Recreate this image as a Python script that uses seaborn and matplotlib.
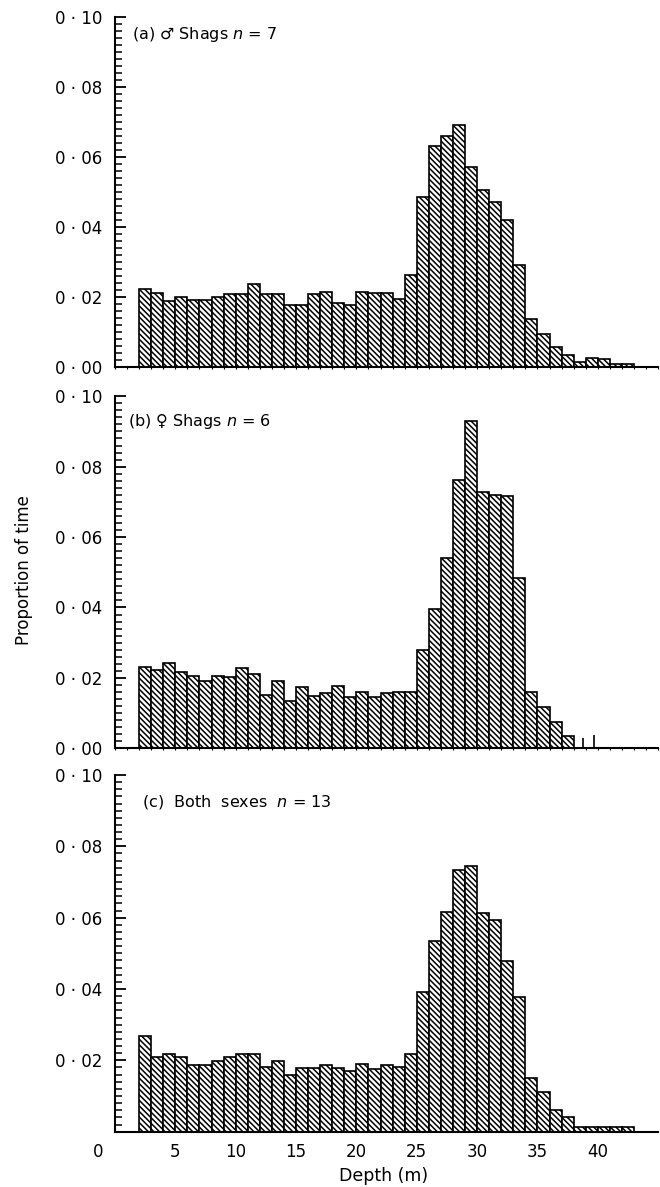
import matplotlib
matplotlib.use("Agg")
import matplotlib.pyplot as plt
import matplotlib.transforms as mtransforms
from matplotlib.ticker import FuncFormatter, MultipleLocator
import pandas as pd
import seaborn as sns

# depth bins, 1 m wide, from 2 m to 43 m
bin_edges = list(range(2, 44))
bin_centers = [b + 0.5 for b in bin_edges[:-1]]

male_prop = [0.0223, 0.0211, 0.0189, 0.0200, 0.0191, 0.0191, 0.0200, 0.0207, 0.0207, 0.0237,
             0.0207, 0.0207, 0.0177, 0.0177, 0.0209, 0.0214, 0.0183, 0.0175, 0.0214, 0.0211,
             0.0211, 0.0193, 0.0263, 0.0484, 0.0630, 0.0660, 0.0691, 0.0572, 0.0505, 0.0470,
             0.0419, 0.0291, 0.0137, 0.0093, 0.0056, 0.0033, 0.0014, 0.0025, 0.0023, 0.0007,
             0.0007]
female_prop = [0.0232, 0.0223, 0.0242, 0.0218, 0.0204, 0.0190, 0.0204, 0.0202, 0.0227, 0.0210,
               0.0152, 0.0190, 0.0135, 0.0173, 0.0149, 0.0156, 0.0178, 0.0147, 0.0159, 0.0145,
               0.0156, 0.0159, 0.0161, 0.0280, 0.0395, 0.0540, 0.0763, 0.0929, 0.0728, 0.0720,
               0.0718, 0.0485, 0.0161, 0.0118, 0.0074, 0.0036, 0.0, 0.0, 0.0, 0.0,
               0.0]
both_prop = [0.0267, 0.0208, 0.0219, 0.0208, 0.0187, 0.0187, 0.0197, 0.0208, 0.0219, 0.0219,
             0.0181, 0.0198, 0.0159, 0.0178, 0.0178, 0.0187, 0.0178, 0.0170, 0.0189, 0.0175,
             0.0186, 0.0181, 0.0217, 0.0392, 0.0534, 0.0617, 0.0734, 0.0744, 0.0612, 0.0593,
             0.0479, 0.0378, 0.0151, 0.0111, 0.0061, 0.0041, 0.0014, 0.0013, 0.0013, 0.0012,
             0.0013]

# two thin spikes beyond the last female bar
female_spike_depth = [38.8, 39.7]
female_spike_prop = [0.0028, 0.0038]

panel_labels = ["(a) \u2642 Shags $n$ = 7", "(b) \u2640 Shags $n$ = 6", "(c)  Both  sexes  $n$ = 13"]
x_ticks = [0, 5, 10, 15, 20, 25, 30, 35, 40]

sns.set_theme(style="ticks")
plt.rcParams["font.family"] = ["DejaVu Sans"]
plt.rcParams["mathtext.fontset"] = "dejavusans"
plt.rcParams["hatch.linewidth"] = 1.1
plt.rcParams["hatch.color"] = "black"

fig = plt.figure(figsize=(6.6, 11.87), dpi=100)
rects = [
    [0.1742, 0.6911, 0.823, 0.2946],
    [0.1742, 0.3696, 0.823, 0.2966],
    [0.1742, 0.0466, 0.823, 0.3005],
]
text_pos = [(0.031, 0.949), (0.024, 0.927), (0.05, 0.924)]


def dot_label(v, pos):
    return f"{v:.2f}".replace(".", " \u00b7 ")


def dot_label_no_zero(v, pos):
    return "" if abs(v) < 1e-9 else dot_label(v, pos)


for i, (rect, values) in enumerate(zip(rects, [male_prop, female_prop, both_prop])):
    ax = fig.add_axes(rect)
    df = pd.DataFrame({"depth": bin_centers, "prop": values})
    sns.histplot(data=df, x="depth", weights="prop", bins=bin_edges, ax=ax,
                 color="white", edgecolor="black", linewidth=1.2, alpha=1,
                 hatch="\\\\\\\\\\\\")
    if i == 1:
        ax.vlines(female_spike_depth, 0, female_spike_prop, color="black", linewidth=1.2)

    ax.set_xlim(0, 45)
    ax.set_ylim(0, 0.10)
    ax.set_xlabel("")
    ax.set_ylabel("")
    sns.despine(ax=ax)
    for side in ["left", "bottom"]:
        ax.spines[side].set_linewidth(1.5)
        ax.spines[side].set_color("black")

    ax.yaxis.set_major_locator(MultipleLocator(0.02))
    ax.yaxis.set_minor_locator(MultipleLocator(0.002))
    ax.yaxis.set_major_formatter(FuncFormatter(dot_label_no_zero if i == 2 else dot_label))
    ax.tick_params(axis="y", which="major", direction="in", length=8, width=1.3,
                   labelsize=12, pad=9, colors="black")
    ax.tick_params(axis="y", which="minor", direction="in", length=5, width=1.1, colors="black")

    if i < 2:
        ax.set_xticks([])
        ax.xaxis.set_minor_locator(MultipleLocator(1))
        ax.tick_params(axis="x", which="minor", direction="out", length=1.5, width=0.8,
                       colors="black")
    else:
        ax.set_xticks(x_ticks)
        ax.set_xticklabels([str(t) for t in x_ticks])
        ax.tick_params(axis="x", which="major", length=0, labelsize=12, pad=8, colors="black")
        # the "0" sits left of the origin in the original
        lab0 = ax.get_xticklabels()[0]
        lab0.set_transform(lab0.get_transform() +
                           mtransforms.ScaledTranslation(-0.17, 0, fig.dpi_scale_trans))

    ax.text(text_pos[i][0], text_pos[i][1], panel_labels[i], transform=ax.transAxes,
            ha="left", va="center", fontsize=11.5, color="black")

fig.text(24 / 660, 1 - 570 / 1187, "Proportion of time", rotation=90,
         ha="center", va="center", fontsize=12, color="black")
fig.text(384 / 660, 1 - 1176 / 1187, "Depth (m)", ha="center", va="center",
         fontsize=12.5, color="black")

fig.savefig("out.png", dpi=100, facecolor="white")
